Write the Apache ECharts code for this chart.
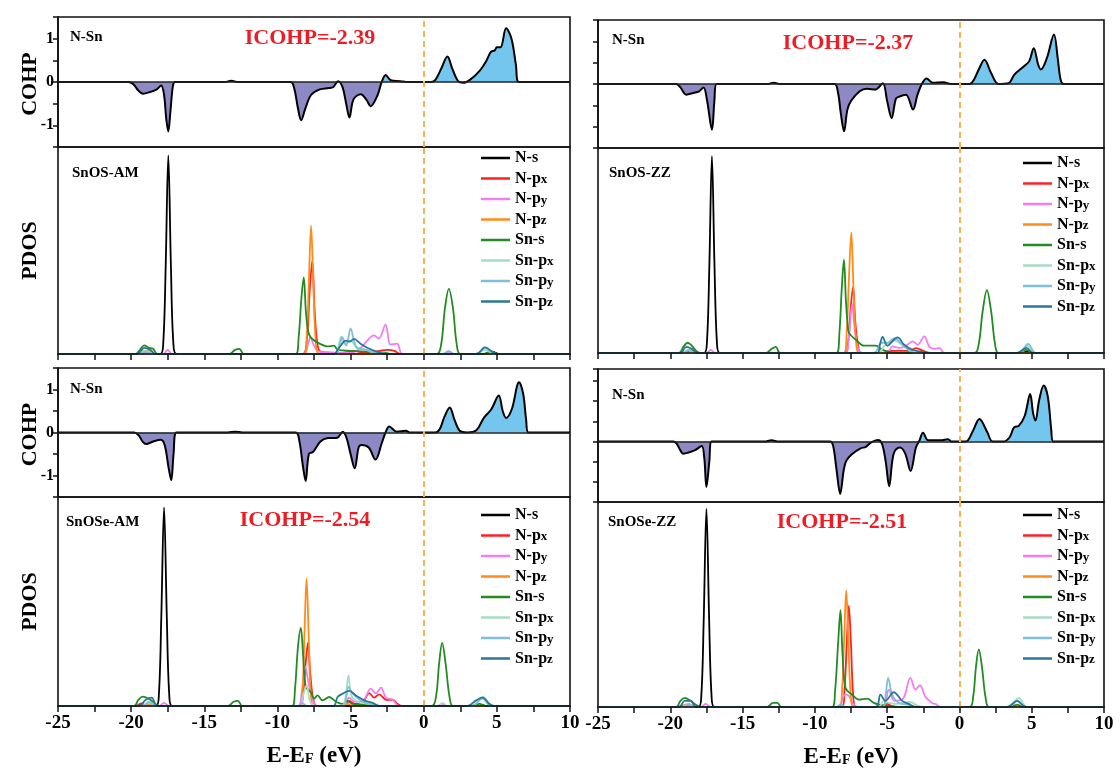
<!DOCTYPE html>
<html><head><meta charset="utf-8">
<script src="https://cdn.jsdelivr.net/npm/echarts@6/dist/echarts.min.js"></script>
<style>html,body{margin:0;padding:0;background:#fff}#c{width:1120px;height:779px}</style>
</head><body><div id="c"></div>
<script>
// ---------------- DATA ----------------
const panelNames = ['SnOS-AM', 'SnOS-ZZ', 'SnOSe-AM', 'SnOSe-ZZ'];
const icohpValues = ['-2.39', '-2.37', '-2.54', '-2.51'];
const bondLabel = 'N-Sn';
const orbitalNames = ['N-s', 'N-px', 'N-py', 'N-pz', 'Sn-s', 'Sn-px', 'Sn-py', 'Sn-pz'];
const xRange = [-25, 10];
const cohpRanges = [[-1.5, 1.5], [-1.5, 1.5], [-1.5, 1.5], [-1.5, 1.8]];

const cohp_SnOS_AM = [[-25,0],[-20.2,0],[-19.85,-0.05],[-19.5,-0.2],[-19.2,-0.27],[-18.7,-0.23],[-18.25,-0.17],[-17.95,-0.08],[-17.75,-0.3],[-17.6,-0.85],[-17.46,-1.14],[-17.32,-0.7],[-17.15,-0.1],[-17.0,0],[-13.6,0],[-13.15,0.03],[-12.7,0],[-9.1,0],[-8.85,-0.15],[-8.6,-0.6],[-8.38,-0.88],[-8.1,-0.62],[-7.7,-0.3],[-7.1,-0.17],[-6.5,-0.14],[-6.2,-0.12],[-5.85,0.02],[-5.55,-0.12],[-5.3,-0.5],[-5.08,-0.82],[-4.8,-0.4],[-4.3,-0.28],[-3.9,-0.42],[-3.63,-0.56],[-3.15,-0.3],[-2.87,0],[-2.6,0.16],[-2.25,0.04],[-1.6,0.02],[-1.2,0],[0.5,0],[0.8,0.05],[1.2,0.31],[1.62,0.59],[1.95,0.31],[2.35,0.02],[2.7,-0.02],[3.2,0.06],[3.85,0.27],[4.25,0.47],[4.6,0.7],[4.85,0.73],[5.0,0.8],[5.25,0.8],[5.63,1.24],[6.0,1.0],[6.3,0.4],[6.5,0],[10,0]];
const cohp_SnOS_ZZ = [[-25,0],[-19.6,0],[-19.3,-0.08],[-18.9,-0.25],[-18.4,-0.21],[-18.0,-0.17],[-17.7,-0.08],[-17.45,-0.4],[-17.12,-1.07],[-16.95,-0.4],[-16.8,0],[-13.3,0],[-12.84,0.03],[-12.4,0],[-8.65,0],[-8.4,-0.2],[-8.2,-0.7],[-7.98,-1.11],[-7.75,-0.6],[-7.5,-0.4],[-6.9,-0.17],[-6.4,-0.11],[-5.8,-0.13],[-5.3,0.02],[-5.0,-0.4],[-4.69,-0.8],[-4.4,-0.35],[-4.2,-0.3],[-3.7,-0.25],[-3.21,-0.6],[-2.9,-0.25],[-2.6,0],[-2.27,0.13],[-1.85,0.03],[-1.1,0.04],[-0.6,0],[0.7,0],[1.0,0.1],[1.35,0.35],[1.73,0.57],[2.2,0.25],[2.7,0],[3.4,0.02],[3.8,0.22],[4.45,0.41],[4.82,0.53],[5.14,0.84],[5.45,0.45],[5.63,0.34],[6.05,0.61],[6.54,1.16],[6.8,0.6],[7.0,0.1],[7.2,0],[10,0]];
const cohp_SnOSe_AM = [[-25,0],[-19.8,0],[-19.5,-0.06],[-19.2,-0.22],[-18.98,-0.27],[-18.5,-0.21],[-17.97,-0.17],[-17.7,-0.3],[-17.45,-0.8],[-17.26,-1.11],[-17.1,-0.5],[-16.9,0],[-13.4,0],[-12.9,0.02],[-12.4,0],[-8.75,0],[-8.5,-0.2],[-8.25,-0.8],[-8.07,-1.13],[-7.85,-0.5],[-7.56,-0.45],[-7.06,-0.21],[-6.55,-0.13],[-5.91,-0.12],[-5.53,0.02],[-5.28,-0.12],[-5.0,-0.5],[-4.72,-0.83],[-4.45,-0.35],[-4.26,-0.29],[-3.76,-0.35],[-3.3,-0.63],[-2.87,-0.25],[-2.61,0],[-2.36,0.14],[-1.85,0.02],[-1.22,0.04],[-0.96,0],[0.8,0],[1.1,0.08],[1.4,0.35],[1.78,0.58],[2.1,0.3],[2.46,0.04],[2.97,0],[3.6,0.05],[4.11,0.34],[4.62,0.54],[5.13,0.86],[5.4,0.5],[5.63,0.34],[6.02,0.54],[6.52,1.17],[6.8,0.9],[7.0,0.3],[7.16,0],[10,0]];
const cohp_SnOSe_ZZ = [[-25,0],[-19.8,0],[-19.56,-0.05],[-19.3,-0.22],[-19.11,-0.3],[-18.32,-0.22],[-17.83,-0.11],[-17.65,-0.4],[-17.5,-1.13],[-17.3,-0.5],[-17.14,0],[-13.5,0],[-13.0,0.03],[-12.5,0],[-8.95,0],[-8.74,-0.1],[-8.5,-0.7],[-8.25,-1.3],[-8.0,-0.7],[-7.83,-0.48],[-7.46,-0.32],[-6.84,-0.17],[-6.47,-0.13],[-6.1,-0.02],[-5.65,0.04],[-5.36,-0.05],[-5.1,-0.5],[-4.86,-1.11],[-4.65,-0.5],[-4.49,-0.25],[-4.12,-0.15],[-3.75,-0.3],[-3.38,-0.73],[-3.01,-0.15],[-2.77,0.02],[-2.52,0.22],[-2.15,0.03],[-1.28,0.03],[-0.79,0.06],[-0.54,0],[0.44,0],[0.94,0.27],[1.38,0.56],[1.93,0.23],[2.3,0],[3.04,0],[3.46,0.1],[3.78,0.35],[4.1,0.39],[4.52,0.64],[4.89,1.18],[5.1,0.7],[5.26,0.52],[5.51,1.02],[5.83,1.39],[6.12,1.1],[6.35,0.3],[6.49,0],[10,0]];

// PDOS (arbitrary units, 0-10)
const pdos_SnOS_AM_Ns = [[-25,0],[-18.0,0],[-17.8,0.6],[-17.64,4.2],[-17.46,9.6],[-17.28,4.2],[-17.12,0.6],[-16.9,0],[4.2,0],[4.7,0.1],[5.2,0],[10,0]];
const pdos_SnOS_AM_Npx = [[-25,0],[-19.4,0],[-19.0,0.15],[-18.6,0],[-8.3,0],[-8.0,0.6],[-7.8,3.0],[-7.62,4.5],[-7.45,2.0],[-7.25,0.4],[-7.0,0.1],[-5.5,0.05],[-4.8,0.15],[-4.0,0.05],[-3.0,0.15],[-2.5,0.2],[-2.0,0.15],[-1.6,0],[10,0]];
const pdos_SnOS_AM_Npy = [[-25,0],[-17.8,0],[-17.5,0.2],[-17.2,0],[-8.2,0],[-7.9,0.5],[-7.73,0.8],[-7.5,0.4],[-7.1,0.1],[-5.0,0.05],[-4.3,0.3],[-3.86,0.65],[-3.41,0.9],[-3.07,0.75],[-2.61,1.42],[-2.27,0.45],[-1.82,0.5],[-1.45,0],[1.3,0],[1.7,0.1],[2.1,0],[10,0]];
const pdos_SnOS_AM_Npz = [[-25,0],[-19.2,0],[-18.8,0.15],[-18.4,0],[-8.2,0],[-8.0,0.8],[-7.85,3.5],[-7.7,6.2],[-7.55,3.5],[-7.38,0.6],[-7.15,0],[10,0]];
const pdos_SnOS_AM_Sns = [[-25,0],[-19.7,0],[-19.4,0.2],[-19.1,0.42],[-18.8,0.3],[-18.5,0.25],[-18.2,0],[-13.3,0],[-12.9,0.2],[-12.6,0.25],[-12.3,0],[-8.75,0],[-8.55,0.8],[-8.35,2.8],[-8.2,3.7],[-8.05,2.0],[-7.9,1.1],[-7.73,0.8],[-7.27,0.56],[-6.6,0.37],[-6.15,0.4],[-5.86,0.2],[-5.0,0.15],[-3.5,0.1],[-2.6,0.05],[-2.2,0],[0.9,0],[1.2,0.5],[1.45,2.2],[1.72,3.15],[2.0,2.2],[2.25,0.5],[2.5,0],[4.0,0],[4.6,0.12],[5.1,0],[10,0]];
const pdos_SnOS_AM_Snpx = [[-25,0],[-19.6,0],[-19.2,0.15],[-18.7,0.1],[-18.3,0],[-6.1,0],[-5.85,0.3],[-5.64,0.84],[-5.4,0.5],[-5.0,0.65],[-4.6,0.3],[-4.32,0.25],[-3.64,0.15],[-3.0,0.05],[-2.5,0],[3.5,0],[4.2,0.2],[4.8,0],[10,0]];
const pdos_SnOS_AM_Snpy = [[-25,0],[-19.5,0],[-19.0,0.1],[-18.5,0],[-6.0,0],[-5.75,0.4],[-5.57,0.81],[-5.3,0.4],[-5.0,1.24],[-4.75,0.6],[-4.55,0.3],[-3.98,0.2],[-3.4,0.05],[-3.0,0],[1.3,0],[1.7,0.15],[2.1,0],[3.6,0],[4.2,0.32],[4.8,0],[10,0]];
const pdos_SnOS_AM_Snpz = [[-25,0],[-19.6,0],[-19.1,0.3],[-18.7,0.2],[-18.3,0],[-6.1,0],[-5.9,0.2],[-5.68,0.4],[-5.34,0.65],[-5.05,0.6],[-4.77,0.73],[-4.32,0.5],[-3.86,0.3],[-3.18,0.1],[-2.5,0],[3.6,0],[4.2,0.32],[4.7,0.1],[5.0,0],[10,0]];

const pdos_SnOS_ZZ_Ns = [[-25,0],[-17.66,0],[-17.46,0.6],[-17.3,4.2],[-17.12,9.6],[-16.94,4.2],[-16.78,0.6],[-16.58,0],[4.3,0],[4.8,0.1],[5.3,0],[10,0]];
const pdos_SnOS_ZZ_Npx = [[-25,0],[-19.0,0],[-18.6,0.12],[-18.2,0],[-7.95,0],[-7.7,0.5],[-7.52,2.2],[-7.36,3.22],[-7.2,1.5],[-7.0,0.3],[-6.8,0],[-5.2,0],[-4.86,0.1],[-3.5,0.1],[-3.0,0.24],[-2.5,0.1],[-2.0,0],[10,0]];
const pdos_SnOS_ZZ_Npy = [[-25,0],[-17.5,0],[-17.2,0.15],[-16.9,0],[-7.9,0],[-7.65,0.8],[-7.42,2.4],[-7.25,1.2],[-7.0,0.2],[-6.7,0],[-5.0,0],[-4.63,0.32],[-4.17,0.25],[-3.7,0.35],[-3.24,0.57],[-2.89,0.4],[-2.43,0.81],[-2.08,0.3],[-1.7,0.2],[-1.39,0.25],[-1.04,0],[10,0]];
const pdos_SnOS_ZZ_Npz = [[-25,0],[-18.8,0],[-18.5,0.15],[-18.2,0],[-8.0,0],[-7.8,1.0],[-7.65,3.5],[-7.48,5.88],[-7.32,3.0],[-7.15,0.6],[-6.95,0],[10,0]];
const pdos_SnOS_ZZ_Sns = [[-25,0],[-19.4,0],[-19.1,0.3],[-18.8,0.5],[-18.5,0.35],[-18.2,0.1],[-17.9,0],[-13.4,0],[-13.0,0.2],[-12.7,0.3],[-12.4,0],[-8.5,0],[-8.3,1.0],[-8.15,3.0],[-7.99,4.55],[-7.85,2.5],[-7.72,1.3],[-7.64,0.98],[-7.18,0.65],[-6.6,0.36],[-5.79,0.36],[-5.32,0.15],[-4.86,0.05],[-4.3,0],[1.05,0],[1.35,0.5],[1.6,2.0],[1.9,3.06],[2.2,2.0],[2.45,0.5],[2.7,0],[4.0,0],[4.6,0.15],[5.2,0],[10,0]];
const pdos_SnOS_ZZ_Snpx = [[-25,0],[-19.2,0],[-18.8,0.15],[-18.3,0],[-5.6,0],[-5.2,0.35],[-4.86,0.5],[-4.5,0.6],[-4.17,0.5],[-3.6,0.2],[-3.0,0],[4.0,0],[4.7,0.35],[5.2,0],[10,0]];
const pdos_SnOS_ZZ_Snpy = [[-25,0],[-19.1,0],[-18.7,0.15],[-18.3,0],[-5.9,0],[-5.6,0.3],[-5.44,0.5],[-5.0,0.5],[-4.51,0.73],[-3.94,0.4],[-3.4,0.1],[-3.0,0],[4.1,0],[4.75,0.45],[5.3,0],[10,0]];
const pdos_SnOS_ZZ_Snpz = [[-25,0],[-19.3,0],[-18.9,0.3],[-18.5,0.2],[-18.1,0],[-5.7,0],[-5.5,0.4],[-5.32,0.78],[-4.98,0.35],[-4.6,0.6],[-4.28,0.76],[-3.82,0.4],[-3.24,0.15],[-2.55,0.05],[-2.2,0],[4.0,0],[4.63,0.25],[5.1,0],[10,0]];

const pdos_SnOSe_AM_Ns = [[-25,0],[-18.3,0],[-18.1,0.6],[-17.94,4.2],[-17.75,9.5],[-17.56,4.2],[-17.4,0.6],[-17.2,0],[10,0]];
const pdos_SnOSe_AM_Npx = [[-25,0],[-19.7,0],[-19.3,0.12],[-18.9,0],[-8.5,0],[-8.25,0.6],[-8.05,2.2],[-7.92,3.02],[-7.75,1.5],[-7.55,0.3],[-7.3,0],[-5.4,0],[-5.09,0.25],[-4.7,0.1],[-4.2,0.15],[-3.72,0.62],[-3.38,0.4],[-3.04,0.56],[-2.58,0.3],[-2.12,0.3],[-1.78,0.1],[-1.5,0],[10,0]];
const pdos_SnOSe_AM_Npy = [[-25,0],[-18.1,0],[-17.75,0.15],[-17.4,0],[-8.6,0],[-8.35,0.6],[-8.1,1.9],[-7.9,1.2],[-7.6,0.3],[-7.3,0],[-5.5,0],[-5.1,0.4],[-4.7,0.2],[-4.1,0.3],[-3.61,0.83],[-3.27,0.6],[-2.92,0.88],[-2.58,0.4],[-2.12,0.3],[-1.7,0],[0.9,0],[1.26,0.1],[1.6,0],[10,0]];
const pdos_SnOSe_AM_Npz = [[-25,0],[-19.2,0],[-18.8,0.1],[-18.4,0],[-8.45,0],[-8.28,0.8],[-8.15,3.5],[-8.01,6.1],[-7.87,3.5],[-7.72,0.6],[-7.5,0],[-5.6,0],[-5.2,0.1],[-4.8,0],[10,0]];
const pdos_SnOSe_AM_Sns = [[-25,0],[-19.8,0],[-19.5,0.3],[-19.2,0.45],[-18.8,0.35],[-18.5,0.2],[-18.1,0],[-13.4,0],[-13.0,0.2],[-12.7,0.25],[-12.4,0],[-9.0,0],[-8.8,0.8],[-8.6,2.8],[-8.4,3.74],[-8.25,2.5],[-8.06,0.91],[-7.72,0.67],[-7.49,0.35],[-7.26,0.51],[-6.92,0.27],[-6.46,0.43],[-6.0,0.2],[-5.55,0.1],[-5.2,0.25],[-4.86,0.1],[-4.0,0.05],[-3.0,0],[0.55,0],[0.85,0.5],[1.05,2.0],[1.26,3.02],[1.5,2.0],[1.75,0.5],[2.0,0],[3.2,0],[3.8,0.1],[4.3,0],[10,0]];
const pdos_SnOSe_AM_Snpx = [[-25,0],[-19.3,0],[-18.8,0.15],[-18.3,0],[-8.5,0],[-8.25,0.5],[-8.0,1.0],[-7.8,0.3],[-7.5,0],[-5.6,0],[-5.35,0.4],[-5.14,1.47],[-4.95,0.5],[-4.5,0.2],[-3.8,0.1],[-3.0,0],[1.0,0],[1.3,0.15],[1.6,0],[3.3,0],[4.04,0.45],[4.6,0],[10,0]];
const pdos_SnOSe_AM_Snpy = [[-25,0],[-19.2,0],[-18.8,0.2],[-18.3,0],[-8.6,0],[-8.3,0.15],[-8.0,0],[-5.5,0],[-5.3,0.4],[-5.14,0.91],[-4.86,0.6],[-4.3,0.25],[-3.7,0.1],[-3.0,0],[3.3,0],[4.0,0.35],[4.6,0],[10,0]];
const pdos_SnOSe_AM_Snpz = [[-25,0],[-19.5,0],[-19.0,0.3],[-18.6,0.4],[-18.2,0],[-6.2,0],[-5.89,0.43],[-5.55,0.59],[-5.09,0.72],[-4.63,0.5],[-4.06,0.27],[-3.5,0.15],[-3.0,0],[3.0,0],[3.58,0.27],[4.04,0.4],[4.5,0.1],[4.8,0],[10,0]];

const pdos_SnOSe_ZZ_Ns = [[-25,0],[-18.05,0],[-17.85,0.6],[-17.69,4.2],[-17.5,9.67],[-17.31,4.2],[-17.15,0.6],[-16.95,0],[10,0]];
const pdos_SnOSe_ZZ_Npx = [[-25,0],[-19.3,0],[-18.9,0.12],[-18.5,0],[-8.1,0],[-7.95,0.8],[-7.8,3.0],[-7.65,4.94],[-7.5,3.0],[-7.35,0.6],[-7.15,0],[-5.3,0],[-5.0,0.15],[-4.5,0],[10,0]];
const pdos_SnOSe_ZZ_Npy = [[-25,0],[-17.9,0],[-17.55,0.15],[-17.2,0],[-8.3,0],[-8.1,0.4],[-7.88,0.6],[-7.65,0.55],[-7.3,0.1],[-7.0,0],[-5.3,0],[-4.88,0.85],[-4.5,0.3],[-3.9,0.4],[-3.39,1.42],[-3.04,0.85],[-2.74,1.06],[-2.35,0.5],[-1.89,0.2],[-1.66,0.15],[-1.3,0],[10,0]];
const pdos_SnOSe_ZZ_Npz = [[-25,0],[-19.0,0],[-18.6,0.1],[-18.2,0],[-8.3,0],[-8.12,0.8],[-7.98,3.2],[-7.83,5.7],[-7.68,3.2],[-7.52,0.6],[-7.3,0],[-5.8,0],[-5.4,0.1],[-5.0,0],[10,0]];
const pdos_SnOSe_ZZ_Sns = [[-25,0],[-19.6,0],[-19.3,0.3],[-19.0,0.45],[-18.6,0.3],[-18.2,0.1],[-17.9,0],[-13.3,0],[-12.9,0.2],[-12.6,0.2],[-12.3,0],[-8.8,0],[-8.6,0.8],[-8.4,3.0],[-8.23,4.72],[-8.08,2.5],[-7.88,0.93],[-7.42,0.6],[-6.96,0.36],[-6.38,0.41],[-5.92,0.2],[-5.46,0.1],[-4.8,0.05],[-4.0,0],[0.7,0],[0.95,0.5],[1.15,2.0],[1.34,2.81],[1.55,2.0],[1.8,0.5],[2.05,0],[3.4,0],[4.0,0.1],[4.5,0],[10,0]];
const pdos_SnOSe_ZZ_Snpx = [[-25,0],[-19.2,0],[-18.8,0.15],[-18.3,0],[-5.6,0],[-5.23,0.3],[-4.9,0.2],[-4.4,0.15],[-3.39,0.25],[-3.0,0.1],[-2.5,0],[3.4,0],[4.1,0.44],[4.7,0],[10,0]];
const pdos_SnOSe_ZZ_Snpy = [[-25,0],[-19.1,0],[-18.7,0.15],[-18.3,0],[-8.5,0],[-8.2,0.15],[-7.9,0],[-5.3,0],[-5.1,0.6],[-4.93,1.42],[-4.65,0.6],[-4.2,0.2],[-3.5,0.1],[-3.0,0],[3.4,0],[4.0,0.3],[4.6,0],[10,0]];
const pdos_SnOSe_ZZ_Snpz = [[-25,0],[-19.4,0],[-19.0,0.3],[-18.6,0.3],[-18.2,0],[-5.8,0],[-5.46,0.6],[-5.12,0.3],[-4.54,0.72],[-3.96,0.3],[-3.5,0.15],[-3.0,0],[3.3,0],[3.99,0.3],[4.6,0],[10,0]];

const cohpPanels = [cohp_SnOS_AM, cohp_SnOS_ZZ, cohp_SnOSe_AM, cohp_SnOSe_ZZ];
const pdosPanels = [
  [pdos_SnOS_AM_Ns, pdos_SnOS_AM_Npx, pdos_SnOS_AM_Npy, pdos_SnOS_AM_Npz, pdos_SnOS_AM_Sns, pdos_SnOS_AM_Snpx, pdos_SnOS_AM_Snpy, pdos_SnOS_AM_Snpz],
  [pdos_SnOS_ZZ_Ns, pdos_SnOS_ZZ_Npx, pdos_SnOS_ZZ_Npy, pdos_SnOS_ZZ_Npz, pdos_SnOS_ZZ_Sns, pdos_SnOS_ZZ_Snpx, pdos_SnOS_ZZ_Snpy, pdos_SnOS_ZZ_Snpz],
  [pdos_SnOSe_AM_Ns, pdos_SnOSe_AM_Npx, pdos_SnOSe_AM_Npy, pdos_SnOSe_AM_Npz, pdos_SnOSe_AM_Sns, pdos_SnOSe_AM_Snpx, pdos_SnOSe_AM_Snpy, pdos_SnOSe_AM_Snpz],
  [pdos_SnOSe_ZZ_Ns, pdos_SnOSe_ZZ_Npx, pdos_SnOSe_ZZ_Npy, pdos_SnOSe_ZZ_Npz, pdos_SnOSe_ZZ_Sns, pdos_SnOSe_ZZ_Snpx, pdos_SnOSe_ZZ_Snpy, pdos_SnOSe_ZZ_Snpz]
];

// ---------------- STYLE / LAYOUT ----------------
const FONT = '"Liberation Serif", "Times New Roman", serif';
const orbitalColors = ['#000000', '#ff2020', '#f47cf2', '#ff8c1a', '#218c21', '#a8dcc6', '#80bfd8', '#2a7796'];
const posColor = '#74c6ee', negColor = '#8c89c4';
const efColor = '#f4b452';
const layout = [
  { cohp: [58, 17, 512, 130], pdos: [58, 147, 512, 207], legend: [481, 150], ylab: true, xlab: false },
  { cohp: [598, 20, 506, 128], pdos: [598, 148, 506, 205], legend: [1023, 155], ylab: false, xlab: false },
  { cohp: [58, 368, 512, 129], pdos: [58, 497, 512, 209], legend: [481, 507], ylab: true, xlab: true },
  { cohp: [598, 369, 506, 133], pdos: [598, 502, 506, 205], legend: [1023, 507], ylab: false, xlab: true }
];
const textPos = [
  { bond: [70, 37], name: [72, 173], icohp: [310, 38] },
  { bond: [612, 40], name: [609, 173], icohp: [848, 43] },
  { bond: [70, 389], name: [66, 522], icohp: [305, 520] },
  { bond: [612, 395], name: [608, 522], icohp: [842, 522] }
];

const grids = [], xAxes = [], yAxes = [], series = [], legends = [], graphics = [];
const black = '#111';

layout.forEach((L, p) => {
  const gc = grids.length;
  grids.push({ left: L.cohp[0], top: L.cohp[1], width: L.cohp[2], height: L.cohp[3], show: true, borderColor: black, borderWidth: 1.6, containLabel: false, outerBoundsMode: 'none' });
  const gp = grids.length;
  grids.push({ left: L.pdos[0], top: L.pdos[1], width: L.pdos[2], height: L.pdos[3], show: true, borderColor: black, borderWidth: 1.6, containLabel: false, outerBoundsMode: 'none' });

  // COHP axes
  xAxes.push({ gridIndex: gc, type: 'value', min: xRange[0], max: xRange[1], interval: 2.5, axisLine: { show: false }, axisTick: { show: false }, axisLabel: { show: false }, splitLine: { show: false } });
  yAxes.push({ gridIndex: gc, type: 'value', min: cohpRanges[p][0], max: cohpRanges[p][1], interval: 0.5,
    axisLine: { show: true, onZero: false, lineStyle: { color: black, width: 1.6 } },
    axisTick: { show: true, inside: false, length: 5, lineStyle: { color: black, width: 1.5 } },
    axisLabel: { show: L.ylab, margin: 4, color: '#000', fontFamily: FONT, fontWeight: 'bold', fontSize: 16, formatter: v => Number.isInteger(v) ? String(v) : '' },
    splitLine: { show: false } });
  // PDOS axes
  xAxes.push({ gridIndex: gp, type: 'value', min: xRange[0], max: xRange[1], interval: 2.5, z: 10,
    axisLine: { show: true, onZero: false, lineStyle: { color: black, width: 1.6 } },
    axisTick: { show: true, inside: false, length: 6, lineStyle: { color: black, width: 1.5 } },
    axisLabel: { show: L.xlab, margin: 8, color: '#000', fontFamily: FONT, fontWeight: 'bold', fontSize: 19, showMinLabel: true, showMaxLabel: true, formatter: v => (v % 5 === 0) ? String(v) : '' },
    splitLine: { show: false },
    name: L.xlab ? '{a|E-E}{b|F}{a| (eV)}' : '', nameLocation: 'middle', nameGap: 39,
    nameTextStyle: { rich: { a: { fontFamily: FONT, fontWeight: 'bold', fontSize: 23, color: '#000' }, b: { fontFamily: FONT, fontWeight: 'bold', fontSize: 14, color: '#000', padding: [6, 0, 0, 0] } } } });
  yAxes.push({ gridIndex: gp, type: 'value', min: 0, max: 10, axisLine: { show: false }, axisTick: { show: false }, axisLabel: { show: false }, splitLine: { show: false } });

  // COHP series with two-colour fill split at zero
  const vals = cohpPanels[p].map(d => d[1]);
  const vmax = Math.max(...vals), vmin = Math.min(...vals);
  const f = vmax / (vmax - vmin);
  series.push({
    type: 'line', name: 'COHP ' + panelNames[p], xAxisIndex: gc, yAxisIndex: gc, data: cohpPanels[p],
    smooth: 0.35, symbol: 'none', silent: true, z: 3,
    lineStyle: { color: '#000', width: 2 },
    areaStyle: { opacity: 1, origin: 0, color: new echarts.graphic.LinearGradient(0, 0, 0, 1, [
      { offset: 0, color: posColor }, { offset: f, color: posColor }, { offset: f, color: negColor }, { offset: 1, color: negColor }]) },
    markLine: { silent: true, symbol: 'none', label: { show: false }, animation: false,
      data: [
        { yAxis: 0, lineStyle: { color: '#222', width: 1.6, type: 'solid' } },
        { xAxis: 0, lineStyle: { color: efColor, width: 2, type: [6, 4] } }
      ] }
  });
  // PDOS series
  pdosPanels[p].forEach((arr, k) => {
    const s = {
      type: 'line', name: orbitalNames[k], xAxisIndex: gp, yAxisIndex: gp, data: arr,
      smooth: 0.35, symbol: 'none', showSymbol: false, silent: true,
      lineStyle: { color: orbitalColors[k], width: 1.8 }, itemStyle: { color: orbitalColors[k] }, z: 2 + k * 0.01
    };
    if (k === 0) s.markLine = { silent: true, symbol: 'none', label: { show: false }, animation: false,
      data: [{ xAxis: 0, lineStyle: { color: efColor, width: 2, type: [6, 4] } }] };
    series.push(s);
  });
  legends.push({
    show: true, orient: 'vertical', left: L.legend[0], top: L.legend[1],
    data: orbitalNames.map(n => ({ name: n, icon: 'rect' })),
    itemWidth: 29, itemHeight: 2.5, itemGap: 4.5, itemTextGap: 2, selectedMode: false, padding: 0,
    formatter: n => { const m = n.match(/^(.*-p)([xyz])$/); return m ? '{m|' + m[1] + '}{s|' + m[2] + '}' : '{m|' + n + '}'; },
    textStyle: { rich: {
      m: { fontFamily: FONT, fontWeight: 'bold', fontSize: 16, color: '#000', lineHeight: 15.5 },
      s: { fontFamily: FONT, fontWeight: 'bold', fontSize: 13, color: '#000', lineHeight: 15.5, padding: [3, 0, 0, 0] } } }
  });

  const T = textPos[p];
  graphics.push({ type: 'text', x: T.bond[0], y: T.bond[1], style: { text: bondLabel, fill: '#000', font: 'bold 15px ' + FONT, align: 'left', verticalAlign: 'middle' } });
  graphics.push({ type: 'text', x: T.name[0], y: T.name[1], style: { text: panelNames[p], fill: '#000', font: 'bold 15px ' + FONT, align: 'left', verticalAlign: 'middle' } });
  graphics.push({ type: 'text', x: T.icohp[0], y: T.icohp[1], style: { text: 'ICOHP=' + icohpValues[p], fill: '#ee1c24', font: 'bold 22px ' + FONT, align: 'center', verticalAlign: 'middle' } });
  if (L.ylab) {
    graphics.push({ type: 'text', x: 30, y: L.cohp[1] + L.cohp[3] / 2 + 2, rotation: Math.PI / 2, style: { text: 'COHP', fill: '#000', font: 'bold 22px ' + FONT, align: 'center', verticalAlign: 'middle' } });
    graphics.push({ type: 'text', x: 30, y: L.pdos[1] + L.pdos[3] / 2, rotation: Math.PI / 2, style: { text: 'PDOS', fill: '#000', font: 'bold 22px ' + FONT, align: 'center', verticalAlign: 'middle' } });
  }
});

const chart = echarts.init(document.getElementById('c'), null, { renderer: 'canvas' });
chart.setOption({
  backgroundColor: '#fff', animation: false,
  grid: grids, xAxis: xAxes, yAxis: yAxes, series: series, legend: legends, graphic: graphics
});
</script></body></html>
